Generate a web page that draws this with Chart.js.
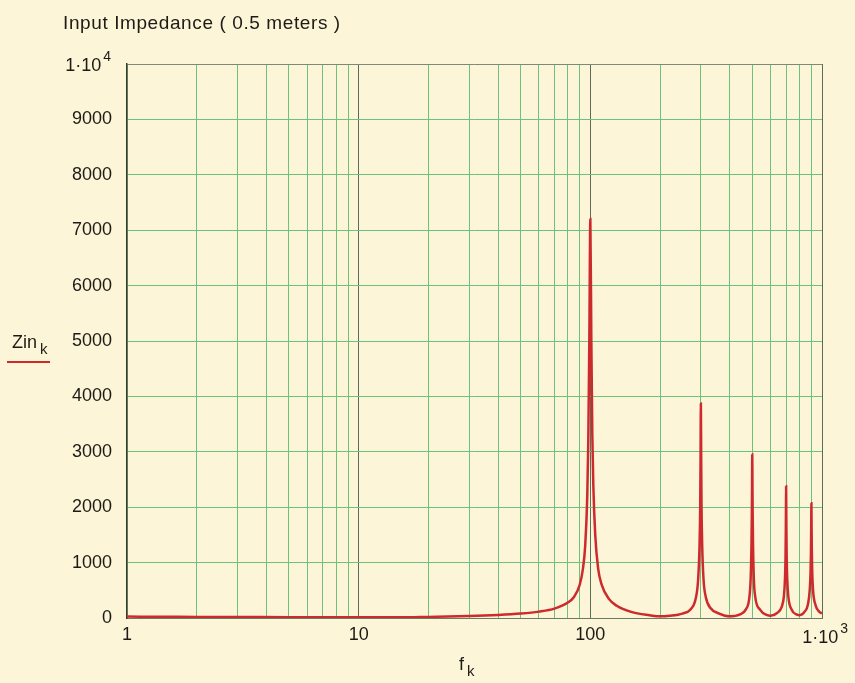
<!DOCTYPE html>
<html>
<head>
<meta charset="utf-8">
<script src="https://cdn.jsdelivr.net/npm/chart.js@4.4.0/dist/chart.umd.min.js"></script>
<style>
  html, body { margin: 0; padding: 0; background: #fcf5d8; }
  #wrap { width: 855px; height: 683px; }
</style>
</head>
<body>
<div id="wrap"><canvas id="zinChart"></canvas></div>
<script>
// frequency samples (Hz, log axis) and impedance
const freqs = [1, 1.5, 2, 3, 5, 8, 10, 15, 20, 30, 40, 50, 60, 70, 80, 85, 90, 93, 95, 97, 98, 99, 100,
  101, 102, 103, 105, 108, 112, 120, 130, 150, 180, 200, 220, 250, 270, 285, 292, 296, 298, 299, 300,
  301, 302, 304, 308, 315, 330, 360, 400, 440, 470, 485, 492, 496, 498, 499, 500,
  501, 502, 504, 508, 515, 540, 580, 600, 640, 670, 685, 692, 696, 698, 699, 700,
  701, 702, 704, 708, 715, 740, 780, 800, 840, 870, 885, 892, 896, 898, 899, 900,
  901, 902, 904, 908, 915, 940, 970, 1000];
const zin = [25, 22, 20, 18, 15, 13, 12, 12, 20, 35, 55, 80, 115, 170, 280, 380, 600, 900, 1300, 2200, 3200, 5000, 7200,
  5000, 3300, 2400, 1500, 900, 600, 350, 220, 110, 50, 30, 40, 80, 150, 350, 700, 1300, 2000, 2800, 3870,
  2800, 2000, 1300, 700, 380, 180, 80, 30, 60, 160, 350, 700, 1300, 1900, 2400, 2950,
  2400, 1900, 1300, 700, 380, 150, 50, 40, 90, 200, 400, 700, 1100, 1600, 2000, 2380,
  2000, 1600, 1100, 700, 400, 150, 60, 50, 110, 250, 500, 800, 1200, 1600, 1850, 2070,
  1850, 1600, 1200, 800, 500, 220, 120, 80];

const xGridTicks = [1, 2, 3, 4, 5, 6, 7, 8, 9, 10, 20, 30, 40, 50, 60, 70, 80, 90,
  100, 200, 300, 400, 500, 600, 700, 800, 900, 1000];
const xLabels = { 1: "1", 10: "10", 100: "100" };
const yTicks = [0, 1000, 2000, 3000, 4000, 5000, 6000, 7000, 8000, 9000, 10000];

const FONT = "'Liberation Sans', Arial, sans-serif";
const INK = "#1e1a16";
const LINE_RED = "#cc2a2c";

const points = freqs.map((f, i) => ({ x: f, y: zin[i] }));

// base text with a raised exponent, right edge at x
function drawPower(c, base, exp, x, y) {
  c.font = "18px " + FONT;
  const bw = c.measureText(base).width;
  c.font = "14px " + FONT;
  const ew = c.measureText(exp).width;
  c.font = "18px " + FONT;
  c.fillText(base, x - ew - 2 - bw, y);
  c.font = "14px " + FONT;
  c.fillText(exp, x - ew, y - 10);
}

// extra texts: title, y legend, x label, power-of-ten tick labels
const labelsPlugin = {
  id: "labels",
  afterDraw(chart) {
    const c = chart.ctx;
    c.save();
    c.fillStyle = INK;
    c.textBaseline = "alphabetic";
    c.textAlign = "left";
    c.font = "19px " + FONT;
    c.letterSpacing = "0.6px";
    c.fillText("Input Impedance ( 0.5 meters )", 63, 29);
    c.letterSpacing = "0px";

    drawPower(c, "1\u00b710", "4", 111, 71);
    drawPower(c, "1\u00b710", "3", 848, 643);

    c.font = "18px " + FONT;
    c.fillText("Zin", 12, 348);
    c.font = "15px " + FONT;
    c.fillText("k", 40, 354);
    c.strokeStyle = LINE_RED;
    c.lineWidth = 2;
    c.beginPath();
    c.moveTo(7, 362);
    c.lineTo(50, 362);
    c.stroke();

    c.fillStyle = INK;
    c.font = "18px " + FONT;
    c.fillText("f", 459, 670);
    c.font = "15px " + FONT;
    c.fillText("k", 467, 676);
    c.restore();
  }
};

new Chart(document.getElementById("zinChart").getContext("2d"), {
  type: "line",
  data: {
    datasets: [
      {
        label: "Zin",
        data: points,
        borderColor: LINE_RED,
        borderWidth: 2.5,
        pointRadius: 0,
        cubicInterpolationMode: "monotone",
        fill: false,
      },
    ],
  },
  options: {
    responsive: true,
    maintainAspectRatio: false,
    animation: false,
    layout: { padding: { left: 0, right: 33, top: 64, bottom: 0 } },
    plugins: {
      legend: { display: false },
      tooltip: { enabled: false },
    },
    scales: {
      x: {
        type: "logarithmic",
        min: 1,
        max: 1000,
        afterBuildTicks: (s) => {
          s.ticks = xGridTicks.map((v) => ({ value: v }));
        },
        afterFit: (s) => {
          s.height = 65;
        },
        ticks: {
          autoSkip: false,
          maxRotation: 0,
          padding: 6,
          color: INK,
          font: { family: FONT, size: 18 },
          callback: (v) => xLabels[v] || "",
        },
        grid: {
          drawTicks: false,
          color: (ctx) => {
            const v = ctx.tick && ctx.tick.value;
            return v === 10 || v === 100 || v === 1000 ? "#5b6e55" : "#6cc27a";
          },
          lineWidth: 1,
        },
        border: { color: "#6b7a66", width: 1 },
      },
      y: {
        min: 0,
        max: 10000,
        afterBuildTicks: (s) => {
          s.ticks = yTicks.map((v) => ({ value: v }));
        },
        afterFit: (s) => {
          s.width = 127;
        },
        ticks: {
          padding: 15,
          color: INK,
          font: { family: FONT, size: 18 },
          callback: (v) => (v === 10000 ? "" : String(v)),
        },
        grid: {
          drawTicks: false,
          color: (ctx) => (ctx.tick && ctx.tick.value === 10000 ? "#7c8a76" : "#6cc27a"),
          lineWidth: 1,
        },
        border: { color: "#3a3a32", width: 1.5 },
      },
    },
  },
  plugins: [labelsPlugin],
});
</script>
</body>
</html>
